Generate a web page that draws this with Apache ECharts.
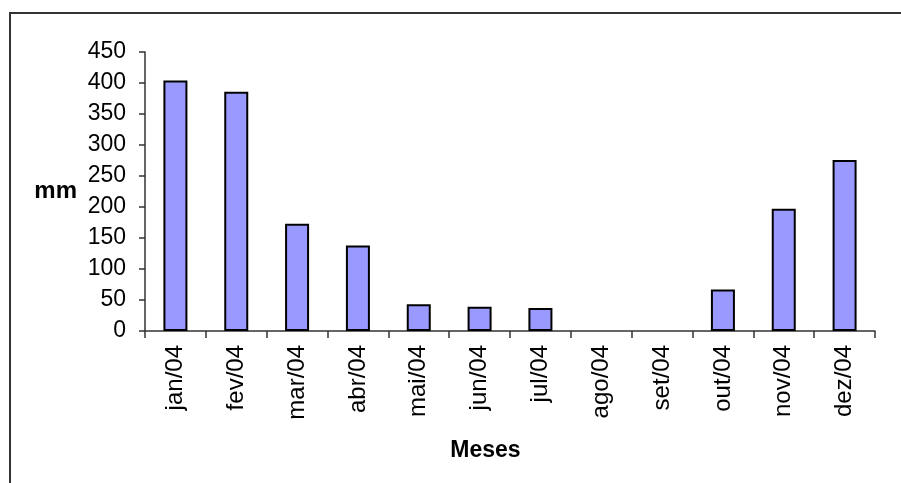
<!DOCTYPE html>
<html>
<head>
<meta charset="utf-8">
<script src="https://cdn.jsdelivr.net/npm/echarts@6/dist/echarts.min.js"></script>
<style>
  html, body { margin: 0; padding: 0; background: #fff; }
  #chart { width: 901px; height: 483px; }
</style>
</head>
<body>
<div id="chart"></div>
<script>
// Monthly rainfall, 2004 (mm)
const months = ['jan/04', 'fev/04', 'mar/04', 'abr/04', 'mai/04', 'jun/04',
                'jul/04', 'ago/04', 'set/04', 'out/04', 'nov/04', 'dez/04'];
const rainfall = [404, 386, 173, 138, 43, 39, 37, 0, 0, 67, 197, 276];
const yTicks = { min: 0, max: 450, step: 50 };

const font = 'Liberation Sans, Arial, sans-serif';
const chart = echarts.init(document.getElementById('chart'), null, { renderer: 'canvas' });

// empty months get no outline, so nothing is drawn on the baseline
const barData = rainfall.map(v => ({
  value: v,
  itemStyle: v === 0 ? { borderWidth: 0 } : undefined
}));

chart.setOption({
  backgroundColor: '#ffffff',
  animation: false,
  graphic: [{
    type: 'rect',
    shape: { x: 10, y: 13, width: 900, height: 480 },
    style: { fill: 'none', stroke: '#333333', lineWidth: 2 },
    silent: true
  }],
  grid: { left: 145, right: 26, top: 52, bottom: 152 },
  xAxis: {
    type: 'category',
    data: months,
    name: 'Meses',
    nameLocation: 'middle',
    nameGap: 108,
    nameTextStyle: { fontFamily: font, fontSize: 23, fontWeight: 'bold', color: '#000', padding: [0, 49, 0, 0] },
    axisLine: { lineStyle: { color: '#333', width: 1.5 } },
    axisTick: { show: true, alignWithLabel: false, length: 7, lineStyle: { color: '#333', width: 1.5 } },
    axisLabel: { rotate: 90, margin: 14, fontFamily: font, fontSize: 24, color: '#000', interval: 0 }
  },
  yAxis: {
    type: 'value',
    min: yTicks.min,
    max: yTicks.max,
    interval: yTicks.step,
    name: 'mm',
    nameLocation: 'middle',
    nameRotate: 0,
    nameGap: 68,
    nameTextStyle: { fontFamily: font, fontSize: 24, fontWeight: 'bold', color: '#000', align: 'right' },
    splitLine: { show: false },
    axisLine: { show: true, lineStyle: { color: '#333', width: 1.5 } },
    axisTick: { show: true, length: 6, lineStyle: { color: '#333', width: 1.5 } },
    axisLabel: { margin: 19, fontFamily: font, fontSize: 23, color: '#000' }
  },
  series: [{
    type: 'bar',
    data: barData,
    barWidth: 24,
    itemStyle: {
      color: '#9999FF',
      borderColor: '#000000',
      borderWidth: 2
    }
  }]
});
</script>
</body>
</html>
